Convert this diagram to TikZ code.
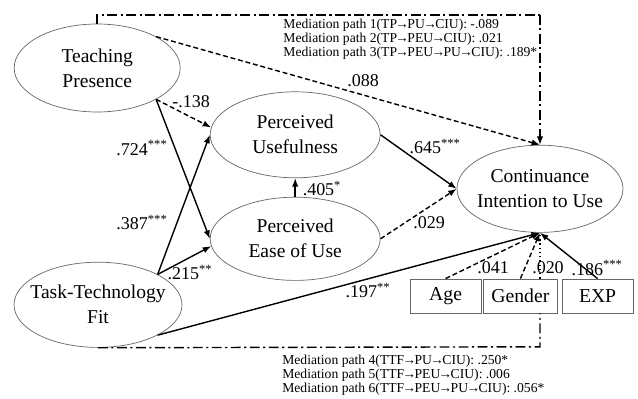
\documentclass[tikz,border=0pt]{standalone}
\usepackage{fontspec}
\setmainfont{Liberation Serif}
\usetikzlibrary{shapes.geometric,arrows.meta}
\newcommand{\sig}[1]{\textsuperscript{#1}}
\newcommand{\pto}{\kern-0.12em→\kern-0.12em}

\begin{document}
\begin{tikzpicture}[
  latent/.style={draw=black!60, ellipse, line width=0.5pt, minimum width=4.2cm, minimum height=2.15cm,
    inner xsep=-0.45cm, inner ysep=0pt, align=center, font=\fontsize{13.9}{17.8}\selectfont},
  obs/.style={draw=black!60, line width=0.6pt, minimum width=1.78cm, minimum height=0.85cm, inner sep=0pt,
    font=\fontsize{14}{16}\selectfont},
  arrow/.style={-{Latex[length=6pt,width=4.5pt]}, line width=1pt},
  dasharrow/.style={arrow, dash pattern=on 3.5pt off 2pt},
  frame/.style={line width=1pt, dash pattern=on 7pt off 2.5pt on 1.5pt off 2.5pt},
  coef/.style={inner sep=1pt, font=\fontsize{12.8}{14}\selectfont},
  note/.style={inner sep=0pt, align=left, font=\fontsize{9.7}{10}\selectfont}
]
\useasboundingbox (0,0) rectangle (15.95,9.95);

% Main boxes
\node[latent, minimum width=4.15cm, minimum height=2.2cm] (tp) at (2.43,8.25) {Teaching\\Presence};
\node[latent, minimum width=4.25cm] (pu) at (7.38,6.58) {Perceived\\Usefulness};
\node[latent, minimum width=4.25cm, minimum height=2.08cm] (peu) at (7.38,3.98) {Perceived\\Ease of Use};
\node[latent, minimum width=4.15cm, minimum height=2.18cm] (ciu) at (13.5,5.23) {Continuance\\Intention to Use};
\node[latent, minimum height=2.13cm] (ttf) at (2.45,2.33) {Task-Technology\\Fit};
\node[obs] (age) at (11.14,2.55) {Age};
\node[obs, minimum width=1.83cm] (gender) at (13.01,2.55) {Gender};
\node[obs] (exp) at (14.94,2.55) {EXP};

% Frame of the mediation paths
\coordinate (toprt) at (13.5,9.58);
\coordinate (botrt) at (13.5,1.28);
\draw[frame] (tp.north) |- (toprt);
\draw[frame, -{Latex[length=6pt,width=4.5pt]}] (toprt) -- (ciu.north);
\draw[frame] (ttf.south) -- (botrt) -- (botrt |- gender.south);
\draw[line width=1pt, dotted] (botrt |- gender.north) -- (ciu.south);

\node[note, anchor=north west] (medtop) at (7.08,9.48)
  {Mediation path 1(TP\pto PU\pto CIU): -.089\\Mediation path 2(TP\pto PEU\pto CIU): .021\\Mediation path 3(TP\pto PEU\pto PU\pto CIU): .189*};
\node[note, anchor=north west] (medbot) at (7.05,1.08)
  {Mediation path 4(TTF\pto PU\pto CIU): .250*\\Mediation path 5(TTF\pto PEU\pto CIU): .006\\Mediation path 6(TTF\pto PEU\pto PU\pto CIU): .056*};

% Arrows
\draw[dasharrow] (tp.south east) -- (pu.175);
\draw[arrow] (tp.south east) -- (peu.west);
\draw[arrow] (ttf.north east) -- (pu.west);
\draw[arrow] (ttf.north east) -- (peu.185);
\draw[arrow] (peu.north) -- (pu.south);
\draw[arrow] (pu.east) -- (ciu.west);
\draw[dasharrow] (peu.east) -- (ciu.west);
\draw[dasharrow] (tp.north east) -- (ciu.north);
\draw[arrow] (ttf.south east) -- (ciu.south);
\draw[dasharrow] (age.north) -- (ciu.south);
\draw[dasharrow] (gender.north) -- (ciu.south);
\draw[arrow] (exp.north) -- (ciu.south);

% Coefficients
\node[coef] (c138) at (4.78,7.4) {-.138};
\node[coef] (c724) at (3.55,6.25) {.724\sig{***}};
\node[coef] (c387) at (3.55,4.38) {.387\sig{***}};
\node[coef] (c215) at (4.75,3.13) {.215\sig{**}};
\node[coef] (c405) at (8.05,5.23) {.405\sig{*}};
\node[coef] (c645) at (10.88,6.28) {.645\sig{***}};
\node[coef] (c029) at (10.73,4.38) {.029};
\node[coef] (c088) at (9.08,7.93) {.088};
\node[coef] (c197) at (9.2,2.68) {.197\sig{**}};
\node[coef] (c041) at (12.33,3.25) {.041};
\node[coef] (c020) at (13.7,3.25) {.020};
\node[coef] (c186) at (14.93,3.25) {.186\sig{***}};
\end{tikzpicture}
\end{document}
